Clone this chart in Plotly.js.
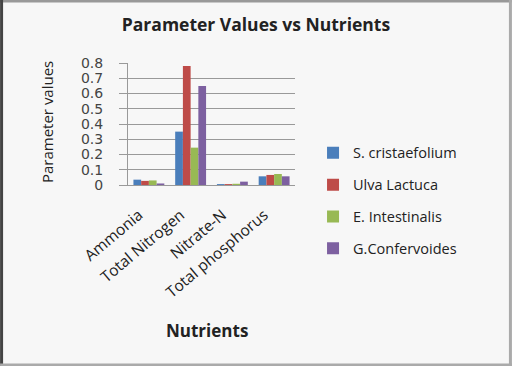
<!DOCTYPE html>
<html><head><meta charset="utf-8">
<script src="https://cdn.plot.ly/plotly-3.0.1.min.js"></script>
<style>html,body{margin:0;padding:0;background:#f7f7f7;}#chart{width:512px;height:366px;}</style>
</head><body><div id="chart"></div>
<script>
const categories = ["Ammonia", "Total Nitrogen", "Nitrate-N", "Total phosphorus"];
const seriesNames = ["S. cristaefolium", "Ulva Lactuca", "E. Intestinalis", "G.Confervoides"];
const sCristaefolium = [0.035, 0.35, 0.006, 0.057];
const ulvaLactuca = [0.027, 0.78, 0.006, 0.066];
const eIntestinalis = [0.03, 0.245, 0.008, 0.072];
const gConfervoides = [0.01, 0.65, 0.022, 0.057];
const colors = ["#4a7ebb", "#be4b48", "#98b954", "#7d60a0"];
const allValues = [sCristaefolium, ulvaLactuca, eIntestinalis, gConfervoides];

const font = "Open Sans, sans-serif";
const traces = allValues.map((v, i) => ({
  type: "bar", x: categories, y: v, name: seriesNames[i],
  marker: {color: colors[i], line: {width: 0}},
  legendgroup: "g" + i
}));

const layout = {
  width: 512, height: 366,
  paper_bgcolor: "#f7f7f7", plot_bgcolor: "#f7f7f7",
  margin: {l: 128, r: 217, t: 63, b: 181},
  font: {family: font, color: "#222"},
  title: {text: "<b>Parameter Values vs Nutrients</b>", font: {size: 17.5, family: font, color: "#222"},
    x: 0.5, xref: "container", y: 0.932, yanchor: "middle"},
  bargap: 0.26, bargroupgap: 0,
  xaxis: {tickangle: -40, tickfont: {size: 15.5, color: "#222"}, showline: true, linecolor: "#999",
    ticks: "", showgrid: false, ticklabelstandoff: 14, ticklabelshift: -10},
  yaxis: {range: [0, 0.8], dtick: 0.1, tickformat: ".1~f",
    tickfont: {size: 14, color: "#444", family: "DejaVu Sans, sans-serif"},
    showgrid: true, gridcolor: "#999", gridwidth: 1, showline: true, linecolor: "#999", ticks: "outside",
    ticklen: 8, tickcolor: "#999", zeroline: false, ticklabelstandoff: 13},
  legend: {x: 1.108, xanchor: "left", y: -0.13, yanchor: "middle", font: {size: 14.5, color: "#222"},
    tracegroupgap: 10, traceorder: "grouped", bgcolor: "rgba(0,0,0,0)"},
  annotations: [
    {text: "<b>Nutrients</b>", xref: "paper", yref: "paper", x: 0.473, y: -1.189,
      showarrow: false, font: {size: 17, color: "#222"}, yanchor: "middle"},
    {text: "Parameter values", xref: "paper", yref: "paper", x: -0.485, y: 0.516, textangle: -90,
      showarrow: false, font: {size: 15, color: "#222"}, xanchor: "center", yanchor: "middle"}
  ],
  shapes: [
    {type: "line", xref: "paper", yref: "paper", x0: -0.766, x1: 2.299, y0: 1.508, y1: 1.508, line: {color: "#999", width: 3}},
    {type: "line", xref: "paper", yref: "paper", x0: -0.757, x1: -0.757, y0: -1.5, y1: 1.52, line: {color: "#444", width: 3}},
    {type: "line", xref: "paper", yref: "paper", x0: 2.29, x1: 2.29, y0: -1.5, y1: 1.52, line: {color: "#aaa", width: 3}},
    {type: "line", xref: "paper", yref: "paper", x0: -0.766, x1: 2.299, y0: -1.476, y1: -1.476, line: {color: "#aaa", width: 3}}
  ]
};
Plotly.newPlot("chart", traces, layout, {displayModeBar: false, staticPlot: true});
</script></body></html>
